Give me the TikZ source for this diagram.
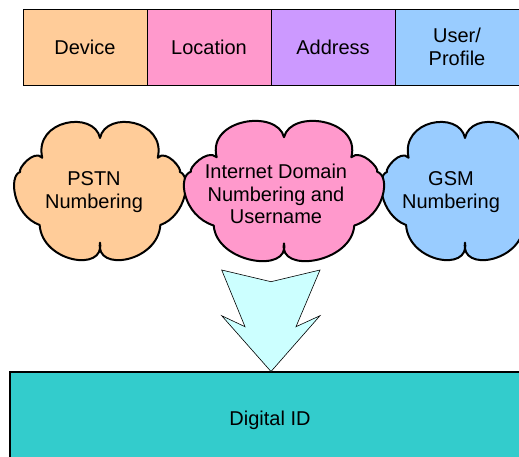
\documentclass[tikz,border=0pt]{standalone}
\usepackage{fontspec}
\setmainfont{Liberation Sans}
\definecolor{cOrange}{HTML}{FFCC99}
\definecolor{cPink}{HTML}{FF99CC}
\definecolor{cPurple}{HTML}{CC99FF}
\definecolor{cBlue}{HTML}{99CCFF}
\definecolor{cArrow}{HTML}{CCFFFF}
\definecolor{cTeal}{HTML}{33CCCC}
\tikzset{
  topbox/.style={draw=black, line width=1pt, minimum width=124pt, minimum height=76pt, inner sep=0pt, align=center, font=\fontsize{20}{22.5}\selectfont},
  cloudtext/.style={inner sep=0pt, align=center, font=\fontsize{20}{22.5}\selectfont},
  cloudline/.style={draw=black, line width=2pt, line join=round},
  arrowshape/.style={draw=black, line width=0.6pt, fill=cArrow},
  basebox/.style={draw=black, line width=1.3pt, fill=cTeal, minimum width=520pt, minimum height=96pt, inner sep=0pt, font=\fontsize{20}{22.5}\selectfont},
  cloudpic/.pic={
    \path[pic actions] (-0.68,-0.49)
      .. controls (-0.78,-1.05) and (-0.07,-1.19) .. (0,-0.78)
      .. controls (0.07,-1.19) and (0.78,-1.05) .. (0.68,-0.49)
      .. controls (0.78,-0.62) and (0.97,-0.32) .. (0.94,-0.28)
      .. controls (1.08,-0.22) and (1.02,0.36) .. (0.71,0.50)
      .. controls (0.68,1.05) and (-0.06,1.2) .. (0,0.76)
      .. controls (0.06,1.2) and (-0.68,1.05) .. (-0.71,0.50)
      .. controls (-1.02,0.36) and (-1.08,-0.22) .. (-0.94,-0.28)
      .. controls (-0.97,-0.32) and (-0.78,-0.62) .. (-0.68,-0.49)
      -- cycle;
  }
}
\begin{document}
\begin{tikzpicture}[x=1pt,y=-1pt]
\useasboundingbox (0,0) rectangle (519,456);
\clip (0,0) rectangle (519,456);
\fill[white] (0,0) rectangle (519,456);
% top boxes
\node[topbox, fill=cOrange] (device) at (85,47) {Device};
\node[topbox, fill=cPink] (location) at (209,47) {Location};
\node[topbox, fill=cPurple] (address) at (333,47) {Address};
\node[topbox, fill=cBlue] (user) at (457,47) {User/\\Profile};
% clouds
\pic[cloudline, fill=cOrange, xscale=85, yscale=68] (pstncloud) at (100,191) {cloudpic};
\pic[cloudline, fill=cBlue, xscale=83, yscale=68] (gsmcloud) at (465,191) {cloudpic};
\pic[cloudline, fill=cPink, xscale=99, yscale=69] (inetcloud) at (284,191) {cloudpic};
\node[cloudtext] (pstn) at (94,192) {PSTN\\Numbering};
\node[cloudtext] (gsm) at (451,192) {GSM\\Numbering};
\node[cloudtext] (inet) at (276,194) {Internet Domain\\Numbering and\\Username};
% bottom box
\node[basebox] (digital) at (270,420) {Digital ID};
% arrow
\coordinate (tl) at (221.7,270);
\coordinate (tc) at (271,281.7);
\coordinate (tr) at (320,270);
\coordinate (ri) at (296,326.7);
\coordinate (ro) at (320,315.7);
\coordinate (tip) at (271,371.5);
\coordinate (lo) at (221.7,315.7);
\coordinate (li) at (245,326.7);
\draw[arrowshape] (tl) -- (tc) -- (tr) -- (ri) -- (ro) -- (tip) -- (lo) -- (li) -- cycle;
\end{tikzpicture}
\end{document}
